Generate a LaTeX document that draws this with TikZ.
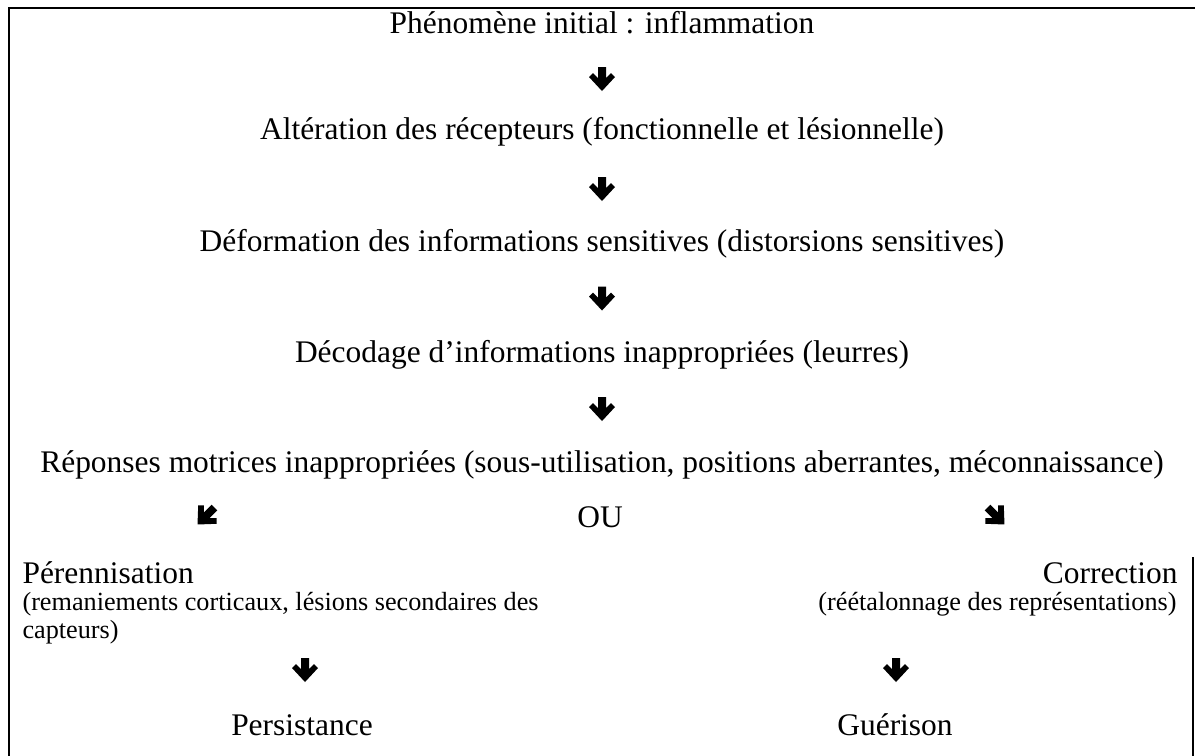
\documentclass[tikz,border=0pt]{standalone}
\usepackage{fontspec}
\setmainfont{Liberation Serif}
\usetikzlibrary{calc}
\tikzset{
  big/.style={inner sep=0pt, font=\fontsize{12}{14}\selectfont},
  small/.style={inner sep=0pt, font=\fontsize{10}{12}\selectfont},
  frame/.style={line width=0.75pt, line cap=rect},
  downarr/.pic={\fill (-4,-12) -- (4,-12) -- (4,-1) -- (9,-6) -- (13,-2) -- (0,12) -- (-13,-2) -- (-9,-6) -- (-4,-1) -- cycle;}
}
\begin{document}
\begin{tikzpicture}[x=0.3815pt, y=-0.3815pt]
\useasboundingbox (0,0) rectangle (1195,755);
% frame
\draw[frame] (1195,8) -- (9,8) -- (9,755);
\draw[frame] (1193,558) -- (1193,755);
% main chain
\node[big, anchor=base] (t1) at (602,33) {Phénomène initial : inflammation};
\node[big, anchor=base] (t2) at (602,139) {Altération des récepteurs (fonctionnelle et lésionnelle)};
\node[big, anchor=base] (t3) at (602,251) {Déformation des informations sensitives (distorsions sensitives)};
\node[big, anchor=base] (t4) at (602,362) {Décodage d’informations inappropriées (leurres)};
\node[big, anchor=base] (t5) at (602,472) {Réponses motrices inappropriées (sous-utilisation, positions aberrantes, méconnaissance)};
\coordinate (a1) at ($(t1.base)!0.5!(t2.base)+(0,-7)$);
\coordinate (a2) at ($(t2.base)!0.5!(t3.base)+(0,-6)$);
\coordinate (a3) at ($(t3.base)!0.5!(t4.base)+(0,-8)$);
\coordinate (a4) at ($(t4.base)!0.5!(t5.base)+(0,-8)$);
\pic at (a1) {downarr};
\pic at (a2) {downarr};
\pic at (a3) {downarr};
\pic at (a4) {downarr};
% branch
\node[big, anchor=base] (ou) at (600,527) {OU};
\coordinate (dl) at (206,516);
\coordinate (dr) at (996,516);
\pic[rotate=-45] at (dl) {downarr};
\pic[rotate=45] at (dr) {downarr};
% left column
\node[big, anchor=base west] (p1) at (22,583) {Pérennisation};
\node[small, anchor=base west] (p2) at (22,610) {(remaniements corticaux, lésions secondaires des};
\node[small, anchor=base west] (p3) at (22,638) {capteurs)};
\node[big, anchor=base] (p4) at (302,735) {Persistance};
\coordinate (al) at (305,670);
\pic at (al) {downarr};
% right column
\node[big, anchor=base east] (c1) at (1178,583) {Correction};
\node[small, anchor=base east] (c2) at (1177,610) {(réétalonnage des représentations)};
\node[big, anchor=base] (c3) at (895,735) {Guérison};
\coordinate (ar) at (896,670);
\pic at (ar) {downarr};
\end{tikzpicture}
\end{document}
